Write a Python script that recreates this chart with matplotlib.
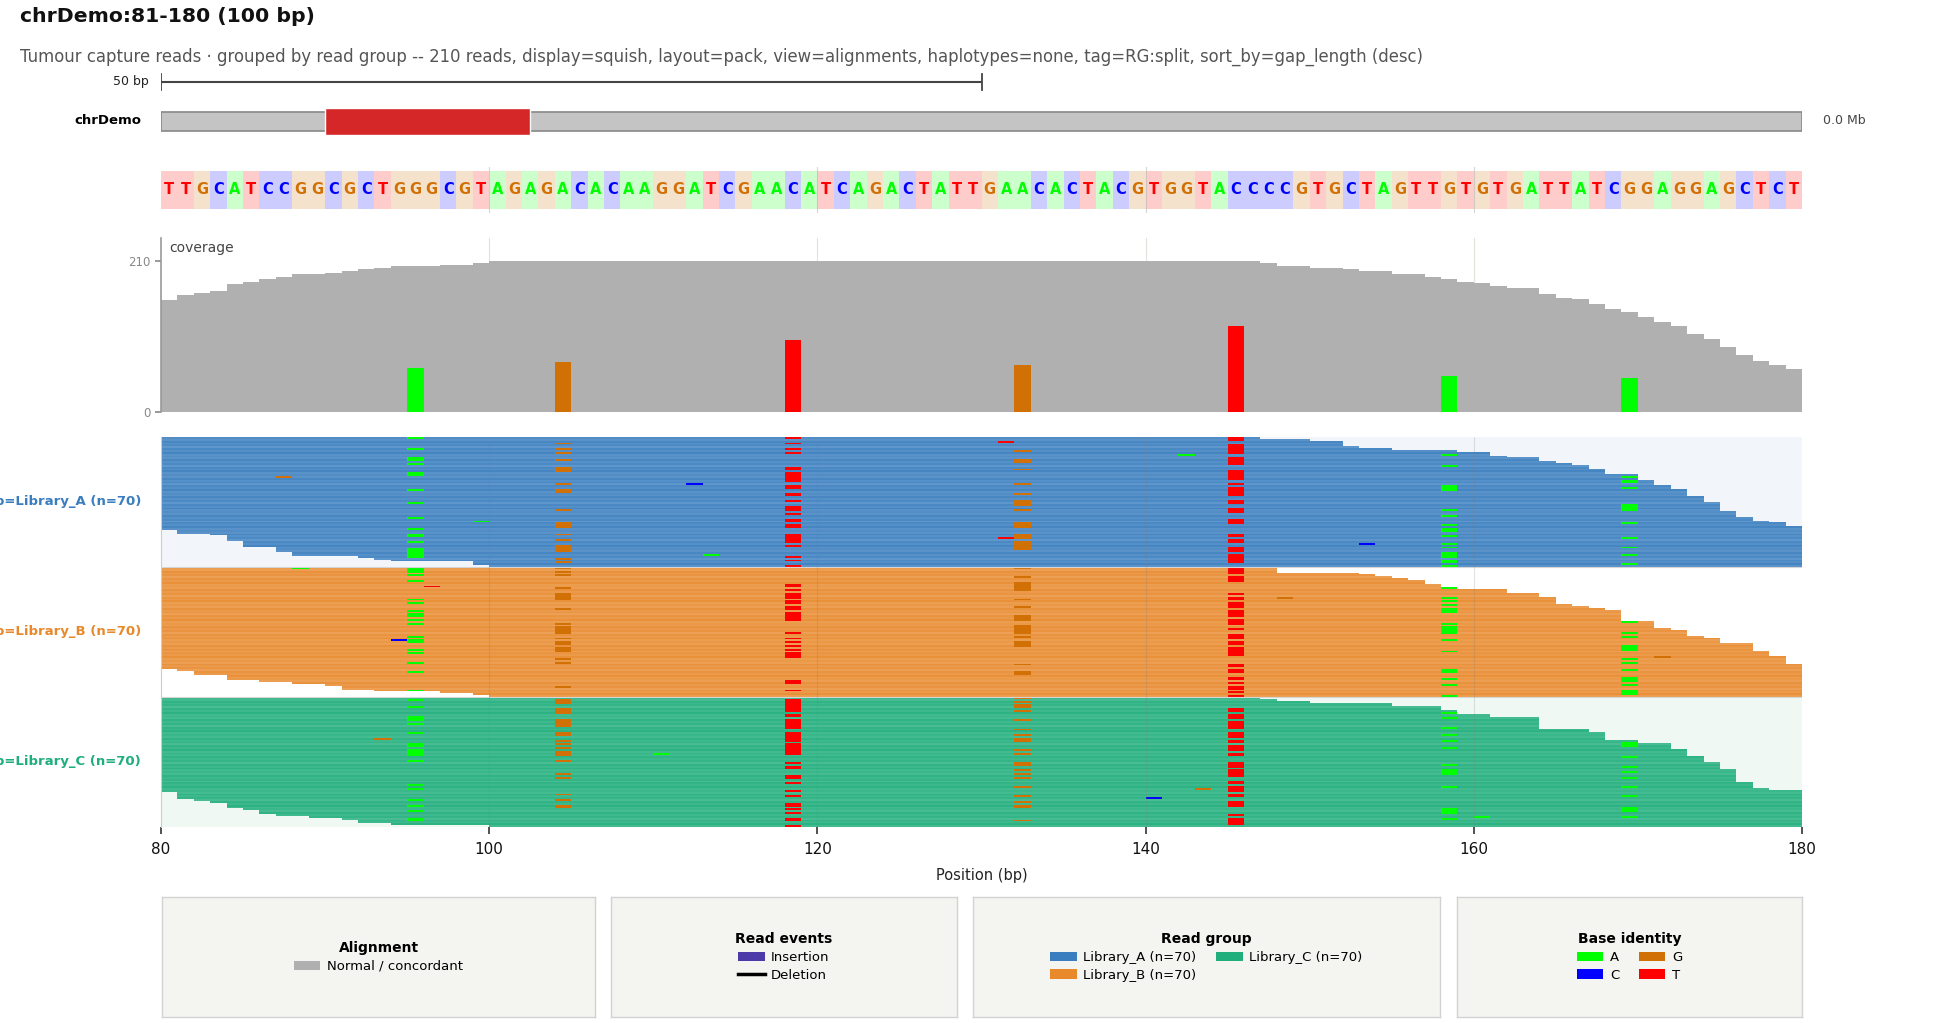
import matplotlib
matplotlib.use('Agg')
import matplotlib.pyplot as plt
from matplotlib.patches import Rectangle, Patch
from matplotlib.lines import Line2D

# ---------------- data ----------------
TITLE = "chrDemo:81-180 (100 bp)"
SUBTITLE = ("Tumour capture reads \u00b7 grouped by read group -- 210 reads, display=squish, layout=pack, "
            "view=alignments, haplotypes=none, tag=RG:split, sort_by=gap_length (desc)")
CHROM = "chrDemo"
CHROM_LEN = 800
VIEW_START, VIEW_END = 80, 180
REF_SEQ = "TTGCATCCGGCGCTGGGCGTAGAGACACAAGGATCGAACATCAGACTATTGAACACTACGTGGTACCCCGTGCTAGTTGTGTGATTATCGGAGGAGCTCT"

COVERAGE = [156, 163, 165, 168, 177, 181, 184, 188, 191, 192,
            193, 196, 199, 200, 203, 203, 203, 204, 204, 207,
            210, 210, 210, 210, 210, 210, 210, 210, 210, 210,
            210, 210, 210, 210, 210, 210, 210, 210, 210, 210,
            210, 210, 210, 210, 210, 210, 210, 210, 210, 210,
            210, 210, 210, 210, 210, 210, 210, 210, 210, 210,
            210, 210, 210, 210, 210, 209, 209, 207, 203, 203,
            200, 200, 199, 196, 196, 192, 191, 188, 185, 181,
            179, 175, 172, 172, 164, 158, 157, 150, 143, 139,
            132, 125, 119, 108, 101, 90, 79, 71, 65, 60]

MM_POS = [95, 104, 118, 132, 145, 158, 169]
MM_BASE = ['A', 'G', 'T', 'G', 'T', 'A', 'A']
MM_COUNT = [61, 69, 100, 65, 119, 50, 47]

GROUPS = ['Library_A', 'Library_B', 'Library_C']
GROUP_N = [70, 70, 70]

START_A = [80, 80, 80, 80, 80, 80, 80, 80, 80, 80, 80, 80, 80, 80, 80, 80, 80, 80, 80, 80,
           80, 80, 80, 80, 80, 80, 80, 80, 80, 80, 80, 80, 80, 80, 80, 80, 80, 80, 80, 80,
           80, 80, 80, 80, 80, 80, 80, 80, 80, 80, 81, 81, 83, 84, 84, 84, 85, 85, 85, 87,
           87, 87, 88, 88, 92, 93, 94, 99, 99, 100]
END_A = [147, 150, 152, 152, 152, 153, 155, 159, 161, 161, 162, 164, 164, 165, 166, 167, 167, 168, 168, 168,
         170, 170, 170, 171, 171, 171, 172, 172, 173, 173, 173, 173, 174, 174, 174, 175, 175, 175, 175, 175,
         176, 176, 176, 177, 177, 178, 179, 179, 180, 180, 180, 180, 180, 180, 180, 180, 180, 180, 180, 180,
         180, 180, 180, 180, 180, 180, 180, 180, 180, 180]
START_B = [80, 80, 80, 80, 80, 80, 80, 80, 80, 80, 80, 80, 80, 80, 80, 80, 80, 80, 80, 80,
           80, 80, 80, 80, 80, 80, 80, 80, 80, 80, 80, 80, 80, 80, 80, 80, 80, 80, 80, 80,
           80, 80, 80, 80, 80, 80, 80, 80, 80, 80, 80, 80, 80, 80, 80, 81, 82, 82, 84, 84,
           84, 86, 88, 90, 91, 91, 93, 97, 99, 100]
END_B = [148, 148, 148, 153, 154, 155, 156, 157, 157, 158, 158, 159, 162, 162, 164, 164, 165, 165, 165, 165,
         166, 167, 168, 169, 169, 169, 169, 169, 169, 171, 171, 171, 171, 172, 173, 173, 173, 174, 175, 175,
         175, 177, 177, 177, 177, 178, 178, 178, 179, 179, 179, 179, 180, 180, 180, 180, 180, 180, 180, 180,
         180, 180, 180, 180, 180, 180, 180, 180, 180, 180]
START_C = [80, 80, 80, 80, 80, 80, 80, 80, 80, 80, 80, 80, 80, 80, 80, 80, 80, 80, 80, 80,
           80, 80, 80, 80, 80, 80, 80, 80, 80, 80, 80, 80, 80, 80, 80, 80, 80, 80, 80, 80,
           80, 80, 80, 80, 80, 80, 80, 80, 80, 80, 80, 81, 81, 81, 81, 82, 83, 84, 84, 84,
           85, 86, 86, 87, 89, 91, 92, 92, 94, 100]
END_C = [147, 148, 150, 155, 155, 158, 158, 159, 159, 161, 161, 164, 164, 164, 164, 164, 164, 167, 167, 168,
         168, 168, 168, 170, 170, 172, 172, 172, 173, 173, 173, 173, 174, 174, 174, 175, 175, 175, 175, 176,
         176, 176, 176, 176, 176, 176, 177, 177, 177, 178, 180, 180, 180, 180, 180, 180, 180, 180, 180, 180,
         180, 180, 180, 180, 180, 180, 180, 180, 180, 180]

# mismatch rows per group, one list per MM_POS column
MM_ROWS_A = [
    [0, 6, 11, 12, 14, 19, 20, 28, 35, 43, 49, 52, 53, 56, 60, 61, 62, 63, 64],
    [3, 6, 8, 12, 16, 17, 18, 25, 28, 29, 39, 46, 47, 48, 52, 55, 58, 59, 60, 61, 65, 67],
    [0, 3, 6, 8, 16, 17, 19, 20, 21, 22, 23, 26, 27, 30, 31, 34, 37, 38, 39, 41, 44, 45, 47, 48,
     52, 53, 54, 55, 56, 58, 64, 66, 69],
    [7, 12, 13, 17, 25, 30, 34, 35, 36, 39, 46, 47, 48, 52, 53, 54, 56, 57, 58, 59, 60],
    [0, 1, 4, 5, 6, 7, 8, 11, 12, 13, 14, 18, 19, 20, 21, 22, 25, 27, 28, 29, 30, 31, 34, 35, 38,
     39, 40, 44, 45, 46, 52, 53, 55, 56, 59, 60, 61, 63, 64, 65, 66, 67],
    [9, 15, 26, 27, 28, 39, 42, 47, 49, 50, 53, 57, 59, 62, 63, 64, 66, 67, 69],
    [21, 23, 24, 27, 36, 37, 38, 39, 46, 54, 59, 63, 68],
]
MM_ROWS_B = [
    [0, 1, 2, 4, 7, 17, 19, 23, 25, 26, 28, 30, 37, 39, 40, 44, 46, 51, 56, 66],
    [0, 2, 4, 11, 14, 15, 16, 17, 22, 30, 32, 33, 34, 35, 38, 40, 41, 43, 44, 45, 49, 51, 64],
    [9, 10, 12, 14, 15, 16, 18, 19, 21, 22, 24, 25, 26, 27, 28, 35, 38, 40, 42, 44, 46, 47, 48,
     61, 62, 66],
    [0, 5, 8, 9, 10, 11, 12, 17, 21, 26, 27, 28, 31, 32, 33, 34, 35, 37, 40, 41, 42, 52, 56, 57],
    [0, 1, 2, 3, 5, 6, 7, 14, 16, 17, 19, 20, 21, 23, 24, 25, 26, 28, 29, 30, 33, 36, 37, 38, 40,
     41, 43, 44, 45, 46, 47, 52, 53, 55, 56, 59, 60, 62, 64, 65, 67, 69],
    [11, 16, 18, 20, 22, 23, 24, 30, 32, 33, 34, 35, 39, 45, 55, 56, 60, 63, 69],
    [29, 35, 37, 42, 43, 44, 49, 51, 55, 59, 60, 61, 63, 66, 67, 68],
]
MM_ROWS_C = [
    [1, 5, 10, 11, 12, 14, 19, 25, 26, 28, 29, 30, 31, 34, 47, 49, 55, 58, 61, 65, 66],
    [1, 2, 3, 6, 7, 8, 12, 13, 14, 15, 19, 20, 23, 25, 27, 29, 30, 31, 34, 41, 43, 52, 55, 58, 59],
    [1, 2, 3, 4, 5, 6, 7, 9, 10, 12, 13, 14, 15, 16, 19, 20, 21, 22, 23, 25, 26, 27, 28, 29, 30,
     35, 37, 38, 42, 43, 46, 50, 53, 57, 58, 60, 62, 65, 66, 69],
    [0, 2, 4, 5, 7, 12, 17, 20, 22, 23, 28, 30, 35, 36, 39, 41, 43, 48, 53, 56, 58, 59, 66],
    [6, 7, 9, 10, 11, 13, 14, 15, 16, 19, 20, 21, 23, 24, 26, 27, 28, 30, 31, 35, 36, 37, 39, 40,
     41, 42, 45, 46, 48, 49, 50, 52, 53, 56, 57, 58, 63, 65, 66, 67, 68],
    [8, 11, 16, 20, 23, 27, 36, 39, 40, 41, 48, 60, 61, 62, 65],
    [24, 25, 26, 32, 37, 40, 43, 48, 53, 59, 60, 61, 64],
]
# isolated single-base mismatches: group index, row, position, base
SNV_GROUP = [0, 0, 0, 0, 0, 0, 0, 0, 1, 1, 1, 1, 1, 2, 2, 2, 2, 2]
SNV_ROW = [21, 25, 45, 63, 2, 54, 9, 57, 0, 10, 39, 16, 48, 22, 30, 49, 54, 64]
SNV_POS = [87, 112, 99, 113, 131, 131, 142, 153, 88, 96, 94, 148, 171, 93, 110, 143, 140, 160]
SNV_BASE = ['G', 'C', 'A', 'A', 'T', 'T', 'A', 'C', 'A', 'T', 'C', 'G', 'G', 'G', 'A', 'G', 'C', 'A']

# ---------------- style ----------------
BASE_COL = {'A': '#00ff00', 'C': '#0000ff', 'G': '#d17105', 'T': '#ff0000'}
BASE_BG = {'A': '#ccffcc', 'C': '#ccccff', 'G': '#f4e2cc', 'T': '#ffcccc'}
GROUP_COL = ['#3a7ebf', '#e8892c', '#1fae7c']
GROUP_BG = ['#f2f6fb', '#ffffff', '#f0f8f4']
READ_SHADE = [0.87, 0.82, 0.92, 0.85, 0.90, 0.80, 0.91, 0.86, 0.94, 0.83]
INS_COL = '#4b3aa7'
COV_COL = '#b0b0b0'
READ_H = 0.925

W, H, DPI = 1960, 1023, 100
plt.rcParams['font.family'] = ['DejaVu Sans']
fig = plt.figure(figsize=(W / DPI, H / DPI), dpi=DPI)


def add_ax(x0, y0, x1, y1):
    return fig.add_axes([x0 / W, 1 - y1 / H, (x1 - x0) / W, (y1 - y0) / H])


def fy(y):
    return 1 - y / H


X0, X1 = 161, 1802
GRID_X = [100, 120, 140, 160]

fig.text(20 / W, fy(17), TITLE, fontsize=14.7, fontweight='bold', ha='left', va='center', color='#111111')
fig.text(20 / W, fy(57), SUBTITLE, fontsize=11.9, ha='left', va='center', color='#555555')

# scale bar
ax_sb = add_ax(X0, 72, X1, 92)
ax_sb.set_xlim(VIEW_START, VIEW_END)
ax_sb.set_ylim(0, 1)
ax_sb.axis('off')
ax_sb.plot([VIEW_START, VIEW_START + 50], [0.5, 0.5], color='#444444', lw=1.5, solid_capstyle='butt')
ax_sb.plot([VIEW_START, VIEW_START], [0.1, 0.9], color='#444444', lw=1.3)
ax_sb.plot([VIEW_START + 50, VIEW_START + 50], [0.1, 0.9], color='#444444', lw=1.3)
fig.text(149 / W, fy(82), '50 bp', fontsize=9, ha='right', va='center', color='#222222')

# ideogram
ax_id = add_ax(X0, 105, X1, 138)
ax_id.set_xlim(0, CHROM_LEN)
ax_id.set_ylim(0, 1)
ax_id.axis('off')
ax_id.add_patch(Rectangle((0, 0.2), CHROM_LEN, 0.6, facecolor='#c4c4c4', edgecolor='#888888', lw=1.2))
ax_id.add_patch(Rectangle((VIEW_START, 0.1), VIEW_END - VIEW_START, 0.8, facecolor='#d62728',
                          edgecolor='white', lw=1.0, zorder=3))
fig.text(141 / W, fy(121), CHROM, fontsize=9.5, fontweight='bold', ha='right', va='center')
fig.text(1823 / W, fy(121), '0.0 Mb', fontsize=9, ha='left', va='center', color='#444444')

# reference sequence
ax_seq = add_ax(X0, 167, X1, 213)
ax_seq.set_xlim(VIEW_START, VIEW_END)
ax_seq.set_ylim(-0.1, 1.1)
ax_seq.axis('off')
for i, b in enumerate(REF_SEQ):
    x = VIEW_START + i
    ax_seq.add_patch(Rectangle((x, 0), 1, 1, facecolor=BASE_BG[b], edgecolor='none', lw=0))
    ax_seq.text(x + 0.5, 0.5, b, color=BASE_COL[b], fontsize=10.5, fontweight='bold',
                ha='center', va='center')
for g in GRID_X:
    ax_seq.plot([g, g], [-0.1, 1.1], color='#bbbbbb', lw=0.8, alpha=0.6, zorder=4)

# coverage
ax_cov = add_ax(X0, 238, X1, 412)
cov_x = [VIEW_START + i for i in range(len(COVERAGE))]
ax_cov.bar(cov_x, COVERAGE, width=1.0, align='edge', color=COV_COL, lw=0, zorder=1)
ax_cov.bar(MM_POS, MM_COUNT, width=1.0, align='edge', color=[BASE_COL[b] for b in MM_BASE], lw=0, zorder=2)
for g in GRID_X:
    ax_cov.axvline(g, color='#e2e2dc', lw=0.8, zorder=0.5)
ax_cov.set_xlim(VIEW_START, VIEW_END)
ax_cov.set_ylim(0, max(COVERAGE) * 1.15)
ax_cov.set_yticks([0, max(COVERAGE)])
ax_cov.set_xticks([])
ax_cov.tick_params(axis='y', colors='#888888', labelsize=8.5, length=4, width=1.2)
for s in ['top', 'right', 'bottom']:
    ax_cov.spines[s].set_visible(False)
ax_cov.spines['left'].set_color('#999999')
ax_cov.spines['left'].set_linewidth(1.2)
ax_cov.text(0.005, 0.94, 'coverage', transform=ax_cov.transAxes, fontsize=10, color='#444444',
            ha='left', va='center')

# reads
ax_r = add_ax(X0, 437, X1, 827)
starts = [START_A, START_B, START_C]
ends = [END_A, END_B, END_C]
mm_rows = [MM_ROWS_A, MM_ROWS_B, MM_ROWS_C]
n_total = sum(GROUP_N)
offset = 0
offsets = []
for gi in range(len(GROUPS)):
    offsets.append(offset)
    ax_r.axhspan(offset, offset + GROUP_N[gi], color=GROUP_BG[gi], zorder=0, lw=0)
    for r in range(GROUP_N[gi]):
        s, e = starts[gi][r], ends[gi][r]
        ax_r.barh(offset + r + 0.5, e - s, left=s, height=READ_H, color=GROUP_COL[gi],
                  alpha=READ_SHADE[r % len(READ_SHADE)], lw=0, zorder=1)
    for ci, p in enumerate(MM_POS):
        for r in mm_rows[gi][ci]:
            if starts[gi][r] <= p and ends[gi][r] >= p + 1:
                ax_r.barh(offset + r + 0.5, 1, left=p, height=READ_H, color=BASE_COL[MM_BASE[ci]],
                          lw=0, zorder=2)
    offset += GROUP_N[gi]
for k in range(len(SNV_POS)):
    ax_r.barh(offsets[SNV_GROUP[k]] + SNV_ROW[k] + 0.5, 1, left=SNV_POS[k], height=READ_H,
              color=BASE_COL[SNV_BASE[k]], lw=0, zorder=2)
for o in offsets[1:]:
    ax_r.axhline(o, color='#d5d5d5', lw=0.8, zorder=3)
for g in GRID_X:
    ax_r.axvline(g, color='#7f7f7f', lw=0.8, alpha=0.22, zorder=4)
ax_r.set_xlim(VIEW_START, VIEW_END)
ax_r.set_ylim(n_total, 0)
ax_r.set_yticks([])
ax_r.set_xticks([80, 100, 120, 140, 160, 180])
ax_r.tick_params(axis='x', labelsize=11, length=5, width=1.2, colors='#333333', pad=6)
for lab in ax_r.get_xticklabels():
    lab.set_color('#111111')
for s in ['top', 'right', 'bottom']:
    ax_r.spines[s].set_visible(False)
ax_r.spines['left'].set_color('#cccccc')
ax_r.spines['left'].set_linewidth(0.8)
ax_r.set_xlabel('Position (bp)', fontsize=10.5, labelpad=8, color='#222222')

row_px = (827 - 437) / n_total
for gi, name in enumerate(GROUPS):
    yc = 437 + (offsets[gi] + GROUP_N[gi] / 2) * row_px
    fig.text(141 / W, fy(yc), f'group={name} (n={GROUP_N[gi]})', fontsize=9.5, fontweight='bold',
             color=GROUP_COL[gi], ha='right', va='center')

# legend panels
boxes = [(162, 897, 595, 1017), (611, 897, 957, 1017), (973, 897, 1440, 1017), (1457, 897, 1802, 1017)]
leg_specs = [
    ('Alignment', [Patch(facecolor=COV_COL)], ['Normal / concordant'], 1),
    ('Read events', [Patch(facecolor=INS_COL), Line2D([0], [0], color='black', lw=2.5)],
     ['Insertion', 'Deletion'], 1),
    ('Read group', [Patch(facecolor=c) for c in GROUP_COL],
     [f'{n} (n={m})' for n, m in zip(GROUPS, GROUP_N)], 2),
    ('Base identity', [Patch(facecolor=BASE_COL[b]) for b in ['A', 'C', 'G', 'T']],
     ['A', 'C', 'G', 'T'], 2),
]
for (x0, y0, x1, y1), (title, hs, ls, nc) in zip(boxes, leg_specs):
    axl = add_ax(x0, y0, x1, y1)
    axl.set_facecolor('#f4f4f1')
    axl.set_xticks([])
    axl.set_yticks([])
    for s in axl.spines.values():
        s.set_color('#d2d2d2')
        s.set_linewidth(1.0)
    leg = axl.legend(hs, ls, title=title, loc='center', ncol=nc, frameon=False, fontsize=9.5,
                     title_fontproperties={'weight': 'bold', 'size': 10}, handlelength=2.0,
                     handleheight=0.7, columnspacing=1.5, labelspacing=0.35, handletextpad=0.5)

fig.savefig('out.png', dpi=DPI)
